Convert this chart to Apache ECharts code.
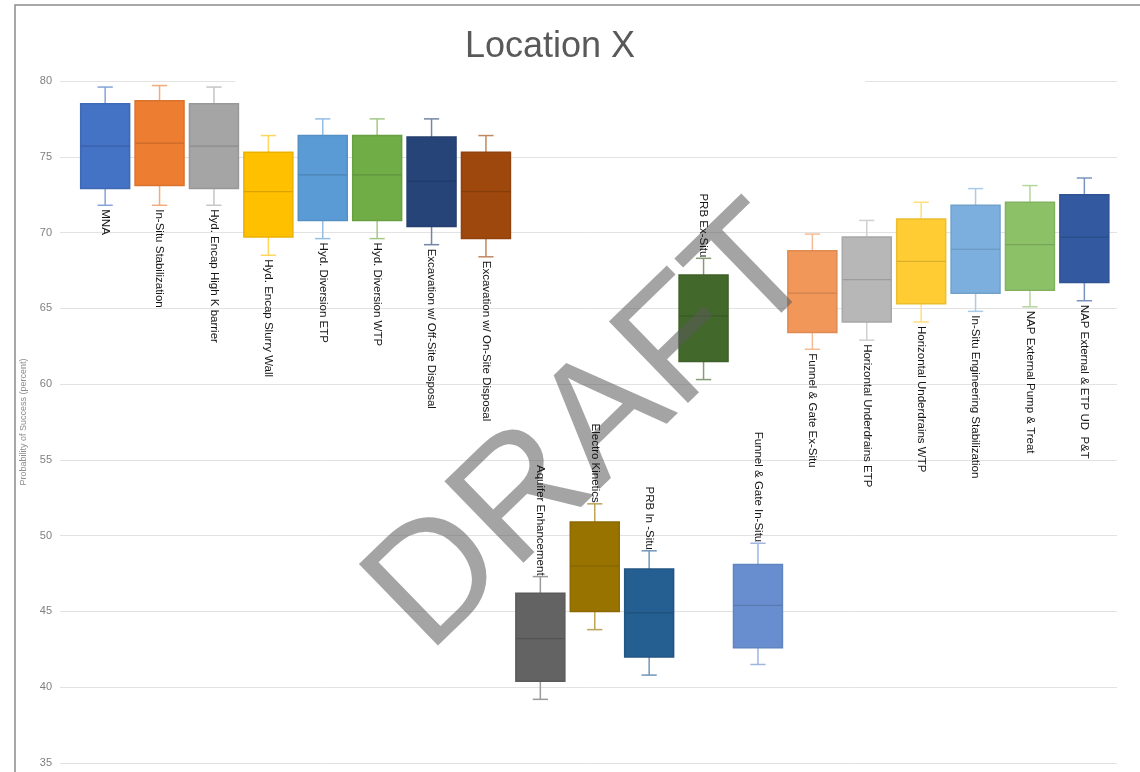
<!DOCTYPE html>
<html>
<head>
<meta charset="utf-8">
<title>Location X</title>
<script src="https://cdn.jsdelivr.net/npm/echarts@6/dist/echarts.min.js"></script>
<style>
html, body { margin: 0; padding: 0; background: #fff; }
#main { width: 1140px; height: 772px; }
</style>
</head>
<body>
<div id="main"></div>
<script>
var categories = ['MNA', 'In-Situ Stabilization', 'Hyd. Encap High K barrier', 'Hyd. Encap Slurry Wall',
    'Hyd. Diversion ETP', 'Hyd. Diversion WTP', 'Excavation w/ Off-Site Disposal', 'Excavation w/ On-Site Disposal',
    'Aquifer Enhancement', 'Electro Kinetics', 'PRB In -Situ', 'PRB Ex-Situ', 'Funnel & Gate In-Situ',
    'Funnel & Gate Ex-Situ', 'Horizontal Underdrains ETP', 'Horizontal Underdrains WTP',
    'In-Situ Engineering Stabilization', 'NAP External Pump & Treat', 'NAP External & ETP UD  P&T'];

var whiskerHigh = [79.6, 79.7, 79.6, 76.4, 77.5, 77.5, 77.5, 76.4, 47.3, 52.1, 49.0, 68.3, 49.5, 69.9, 70.8, 72.0, 72.9, 73.1, 73.6];
var quartile3   = [78.5, 78.7, 78.5, 75.3, 76.4, 76.4, 76.3, 75.3, 46.2, 50.9, 47.8, 67.2, 48.1, 68.8, 69.7, 70.9, 71.8, 72.0, 72.5];
var medians     = [75.7, 75.9, 75.7, 72.7, 73.8, 73.8, 73.4, 72.7, 43.2, 48.0, 44.9, 64.5, 45.4, 66.0, 66.9, 68.1, 68.9, 69.2, 69.7];
var quartile1   = [72.9, 73.1, 72.9, 69.7, 70.8, 70.8, 70.4, 69.6, 40.4, 45.0, 42.0, 61.5, 42.6, 63.4, 64.1, 65.3, 66.0, 66.2, 66.7];
var whiskerLow  = [71.8, 71.8, 71.8, 68.5, 69.6, 69.6, 69.2, 68.4, 39.2, 43.8, 40.8, 60.3, 41.5, 62.3, 62.9, 64.1, 64.8, 65.1, 65.5];

// labels drawn above the top whisker instead of below the bottom one
var labelAbove = ['Aquifer Enhancement', 'Electro Kinetics', 'PRB In -Situ', 'PRB Ex-Situ', 'Funnel & Gate In-Situ'];

var boxColors = ['#4472C4', '#ED7D31', '#A5A5A5', '#FFC000', '#5B9BD5', '#70AD47', '#264478', '#9E480E',
    '#636363', '#997300', '#255E91', '#43682B', '#698ED0', '#F1975A', '#B7B7B7', '#FFCD33',
    '#7CAFDD', '#8CC168', '#335AA1'];

function mix(hex, target, f) {
    var r = parseInt(hex.substr(1, 2), 16), g = parseInt(hex.substr(3, 2), 16), b = parseInt(hex.substr(5, 2), 16);
    r = Math.round(r + (target - r) * f);
    g = Math.round(g + (target - g) * f);
    b = Math.round(b + (target - b) * f);
    return 'rgb(' + r + ',' + g + ',' + b + ')';
}

var boxData = categories.map(function (name, i) {
    return [i, whiskerLow[i], quartile1[i], medians[i], quartile3[i], whiskerHigh[i]];
});

var labelData = categories.map(function (name, i) {
    return [i, whiskerLow[i], whiskerHigh[i]];
});

function renderBox(params, api) {
    var x = api.value(0);
    var pLow = api.coord([x, api.value(1)]);
    var pQ1 = api.coord([x, api.value(2)]);
    var pMed = api.coord([x, api.value(3)]);
    var pQ3 = api.coord([x, api.value(4)]);
    var pHigh = api.coord([x, api.value(5)]);
    var band = api.size([1, 0])[0];
    var boxW = band * 0.9;
    var capW = band * 0.28;
    var c = boxColors[params.dataIndex];
    var whisk = { stroke: mix(c, 255, 0.35), lineWidth: 1.5 };
    var border = { fill: c, stroke: mix(c, 0, 0.08), lineWidth: 1.5 };
    var cx = pMed[0];
    return {
        type: 'group',
        children: [
            { type: 'line', shape: { x1: cx, y1: pQ3[1], x2: cx, y2: pHigh[1] }, style: whisk },
            { type: 'line', shape: { x1: cx - capW / 2, y1: pHigh[1], x2: cx + capW / 2, y2: pHigh[1] }, style: whisk },
            { type: 'line', shape: { x1: cx, y1: pQ1[1], x2: cx, y2: pLow[1] }, style: whisk },
            { type: 'line', shape: { x1: cx - capW / 2, y1: pLow[1], x2: cx + capW / 2, y2: pLow[1] }, style: whisk },
            { type: 'rect', shape: { x: cx - boxW / 2, y: pQ3[1], width: boxW, height: pQ1[1] - pQ3[1] }, style: border },
            { type: 'line', shape: { x1: cx - boxW / 2, y1: pMed[1], x2: cx + boxW / 2, y2: pMed[1] },
              style: { stroke: mix(c, 0, 0.15), lineWidth: 1.2 } }
        ]
    };
}

function renderLabel(params, api) {
    var x = api.value(0);
    var name = categories[params.dataIndex];
    var above = labelAbove.indexOf(name) >= 0;
    var p = above ? api.coord([x, api.value(2)]) : api.coord([x, api.value(1)]);
    return {
        type: 'text',
        x: p[0],
        y: above ? p[1] - 1 : p[1] + 4,
        rotation: -Math.PI / 2,
        style: {
            text: name,
            fill: '#141414',
            fontSize: 11.5,
            fontFamily: "'Liberation Sans Narrow', 'Liberation Sans', sans-serif",
            align: above ? 'right' : 'left',
            verticalAlign: 'middle'
        }
    };
}

var chart = echarts.init(document.getElementById('main'));

var option = {
    animation: false,
    backgroundColor: '#fff',
    title: {
        text: 'Location X',
        left: 235,
        top: 25,
        padding: [4, 230, 18, 230],
        backgroundColor: '#fff',
        textStyle: {
            fontFamily: "'Liberation Sans', Arial, sans-serif",
            fontSize: 36,
            fontWeight: 'normal',
            color: '#595959'
        }
    },
    grid: { left: 60, right: 23, top: 81, bottom: 9 },
    xAxis: {
        type: 'value',
        min: -0.83,
        max: 18.6,
        show: false
    },
    yAxis: {
        type: 'value',
        min: 35,
        max: 80,
        interval: 5,
        name: 'Probability of Success (percent)',
        nameLocation: 'middle',
        nameGap: 32,
        nameTextStyle: { color: '#8c8c8c', fontSize: 9, fontFamily: "'Liberation Sans', sans-serif" },
        axisLine: { show: false },
        axisTick: { show: false },
        axisLabel: { color: '#7f7f7f', fontSize: 11, margin: 8, fontFamily: "'Liberation Sans', sans-serif" },
        splitLine: { lineStyle: { color: '#e2e2e2', width: 1 } }
    },
    graphic: [
        {
            type: 'rect',
            shape: { x: 15, y: 5, width: 1200, height: 800 },
            style: { fill: 'none', stroke: '#8c8c8c', lineWidth: 1.5 },
            silent: true,
            z: 1
        },
        {
            type: 'text',
            x: 594,
            y: 431,
            rotation: 0.77,
            style: {
                text: 'DRAFT',
                fontSize: 165,
                fontFamily: "'Liberation Sans', Arial, sans-serif",
                fill: 'rgba(90,90,90,0.55)',
                align: 'center',
                verticalAlign: 'middle'
            },
            silent: true,
            z: 5
        }
    ],
    series: [
        {
            name: 'boxes',
            type: 'custom',
            renderItem: renderBox,
            encode: { x: 0, y: [1, 2, 3, 4, 5] },
            data: boxData,
            z: 2
        },
        {
            name: 'labels',
            type: 'custom',
            renderItem: renderLabel,
            encode: { x: 0, y: [1, 2] },
            data: labelData,
            z: 10
        }
    ]
};

chart.setOption(option);
</script>
</body>
</html>
